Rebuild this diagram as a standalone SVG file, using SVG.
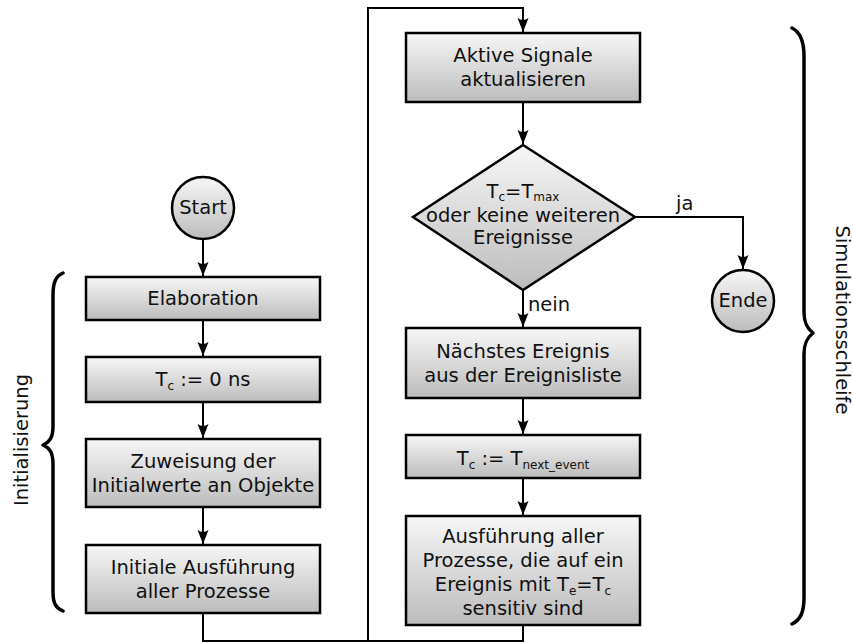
<svg xmlns="http://www.w3.org/2000/svg" width="853" height="643" viewBox="0 0 853 643">
  <defs>
    <linearGradient id="shade" x1="0" y1="0" x2="0" y2="1">
      <stop offset="0" stop-color="#f7f7f7"/>
      <stop offset="1" stop-color="#bcbcbc"/>
    </linearGradient>
    <marker id="arrow" markerUnits="userSpaceOnUse" markerWidth="16" markerHeight="14" viewBox="-15 -7 16 14" refX="0" refY="0" orient="auto">
      <path d="M0,0 L-14,-5.5 Q-10,0 -14,5.5 Z" fill="#000"/>
    </marker>
    <style>
      .node { fill: url(#shade); stroke: #000; stroke-width: 2.5; }
      .label { font-family: "DejaVu Sans", sans-serif; font-size: 19.5px; fill: #111; text-anchor: middle; }
      .plain { font-family: "DejaVu Sans", sans-serif; font-size: 19.5px; fill: #111; }
      .sub { font-size: 12px; }
      .wire { fill: none; stroke: #000; stroke-width: 2; }
      .brace { fill: none; stroke: #000; stroke-width: 3.5; stroke-linecap: round; stroke-linejoin: round; }
    </style>
  </defs>

  <!-- connectors -->
  <g id="connectors">
    <path class="wire" d="M203,239 L203,276" marker-end="url(#arrow)"/>
    <path class="wire" d="M203,320 L203,356" marker-end="url(#arrow)"/>
    <path class="wire" d="M203,402 L203,438" marker-end="url(#arrow)"/>
    <path class="wire" d="M203,507 L203,544" marker-end="url(#arrow)"/>
    <path class="wire" d="M203,613 L203,641 L523,641 L523,625"/>
    <path class="wire" d="M368,641 L368,8 L523,8 L523,32" marker-end="url(#arrow)"/>
    <path class="wire" d="M523,102 L523,144" marker-end="url(#arrow)"/>
    <path class="wire" d="M523,290 L523,327" marker-end="url(#arrow)"/>
    <path class="wire" d="M635,217 L743,217 L743,269" marker-end="url(#arrow)"/>
    <path class="wire" d="M523,398 L523,434" marker-end="url(#arrow)"/>
    <path class="wire" d="M523,478 L523,515" marker-end="url(#arrow)"/>
    <text class="plain" x="676" y="210">ja</text>
    <text class="plain" x="528" y="311">nein</text>
  </g>

  <!-- initialisation column -->
  <g id="start">
    <circle class="node" cx="203" cy="208" r="31"/>
    <text class="label" x="203" y="214">Start</text>
  </g>
  <g id="elaboration">
    <rect class="node" x="86" y="277" width="234" height="43"/>
    <text class="label" x="203" y="305">Elaboration</text>
  </g>
  <g id="tc-zero">
    <rect class="node" x="86" y="357" width="234" height="45"/>
    <text class="label" x="203" y="386">T<tspan class="sub" dy="4">c</tspan><tspan dy="-4"> := 0 ns</tspan></text>
  </g>
  <g id="zuweisung">
    <rect class="node" x="86" y="439" width="234" height="68"/>
    <text class="label" x="203" y="468">Zuweisung der</text>
    <text class="label" x="203" y="492">Initialwerte an Objekte</text>
  </g>
  <g id="initiale-ausfuehrung">
    <rect class="node" x="86" y="545" width="234" height="68"/>
    <text class="label" x="203" y="574">Initiale Ausführung</text>
    <text class="label" x="203" y="598">aller Prozesse</text>
  </g>

  <!-- simulation loop column -->
  <g id="aktive-signale">
    <rect class="node" x="406" y="33" width="234" height="69"/>
    <text class="label" x="523" y="62">Aktive Signale</text>
    <text class="label" x="523" y="86">aktualisieren</text>
  </g>
  <g id="abbruch">
    <polygon class="node" points="523,145 635,217 523,290 413,217"/>
    <text class="label" x="523" y="198">T<tspan class="sub" dy="3">c</tspan><tspan dy="-3">=T</tspan><tspan class="sub" dy="3">max</tspan></text>
    <text class="label" x="523" y="222">oder keine weiteren</text>
    <text class="label" x="523" y="244">Ereignisse</text>
  </g>
  <g id="ende">
    <circle class="node" cx="743" cy="301" r="31"/>
    <text class="label" x="743" y="307">Ende</text>
  </g>
  <g id="naechstes-ereignis">
    <rect class="node" x="406" y="328" width="234" height="70"/>
    <text class="label" x="523" y="358">Nächstes Ereignis</text>
    <text class="label" x="523" y="382">aus der Ereignisliste</text>
  </g>
  <g id="tc-next">
    <rect class="node" x="406" y="435" width="234" height="43"/>
    <text class="label" x="523" y="465">T<tspan class="sub" dy="4">c</tspan><tspan dy="-4"> := T</tspan><tspan class="sub" dy="4">next_event</tspan></text>
  </g>
  <g id="ausfuehrung">
    <rect class="node" x="406" y="516" width="234" height="109"/>
    <text class="label" x="523" y="543">Ausführung aller</text>
    <text class="label" x="523" y="567">Prozesse, die auf ein</text>
    <text class="label" x="523" y="591">Ereignis mit T<tspan class="sub" dy="4">e</tspan><tspan dy="-4">=T</tspan><tspan class="sub" dy="4">c</tspan></text>
    <text class="label" x="523" y="615">sensitiv sind</text>
  </g>

  <!-- braces with their captions -->
  <g id="initialisierung">
    <path class="brace" d="M63,273 C56,276 53,282 53,295 L53,426 C53,437 50,442 43,445 C50,448 53,453 53,464 L53,592 C53,604 56,608 63,611"/>
    <text class="label" transform="translate(28,440) rotate(-90)">Initialisierung</text>
  </g>
  <g id="simulationsschleife">
    <path class="brace" d="M792,28 C800,32 804,40 804,56 L804,312 C804,324 808,329 813,333 C808,337 804,342 804,354 L804,598 C804,613 800,620 792,624"/>
    <text class="label" transform="translate(836,320) rotate(90)">Simulationsschleife</text>
  </g>
</svg>
